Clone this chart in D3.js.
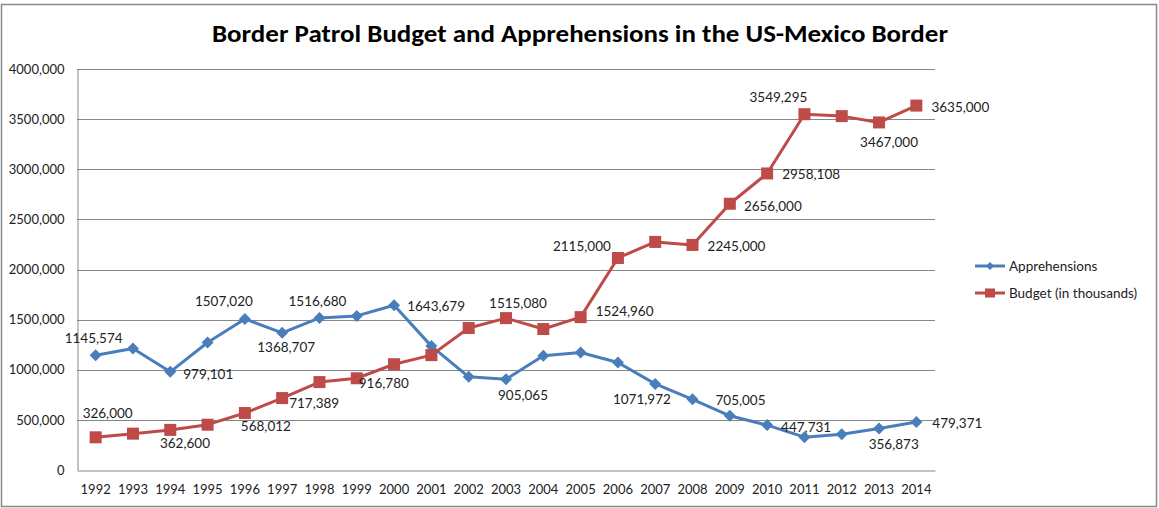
<!DOCTYPE html>
<html>
<head>
<meta charset="utf-8">
<script src="https://cdn.jsdelivr.net/npm/d3@7"></script>
<style>
  html, body { margin: 0; padding: 0; background: #fff; }
  svg { display: block; }
</style>
</head>
<body>
<svg id="chart" width="1159" height="508"></svg>
<script>
// ---- data ----
const titleText = "Border Patrol Budget and Apprehensions in the US-Mexico Border";
const years = ["1992","1993","1994","1995","1996","1997","1998","1999","2000","2001","2002","2003","2004","2005","2006","2007","2008","2009","2010","2011","2012","2013","2014"];
const apprehensions = [1145574,1212886,979101,1271390,1507020,1368707,1516680,1537000,1643679,1235718,929809,905065,1139282,1171396,1071972,858638,705005,540865,447731,327577,356873,414397,479371];
const budget = [326000,362600,400000,452000,568012,717389,877000,915000,1055000,1146000,1416000,1515080,1406000,1524960,2115000,2275000,2245000,2656000,2958108,3549295,3530000,3467000,3635000];
const yTickValues = [0,500000,1000000,1500000,2000000,2500000,3000000,3500000,4000000];
const yTickLabels = ["0","500,000","1000,000","1500,000","2000,000","2500,000","3000,000","3500,000","4000,000"];
const seriesNames = ["Apprehensions","Budget (in thousands)"];
// data label texts and the point index each one belongs to
const apprLabelText = ["1145,574","979,101","1507,020","1368,707","1516,680","1643,679","905,065","1071,972","705,005","447,731","356,873","479,371"];
const apprLabelIndex = [0,2,4,5,6,8,11,14,16,18,20,22];
const budgetLabelText = ["326,000","362,600","568,012","717,389","916,780","1515,080","1524,960","2115,000","2245,000","2656,000","2958,108","3549,295","3467,000","3635,000"];
const budgetLabelIndex = [0,1,4,5,7,11,13,14,16,17,18,19,21,22];

// ---- layout / style ----
const W = 1159, H = 508;
const plot = {left: 77, right: 935, top: 69, bottom: 470};
const apprColor = "#4A7EBB", budgetColor = "#BE4B48";
const gridColor = "#868686";
const font = "Lato, 'Open Sans', 'Liberation Sans', sans-serif";
// label offsets (dx, dy) relative to their point
const apprOffsets = [[-2,-17],[38,2],[-21,-18],[4,14],[-2,-17],[42,1],[17,16],[24,36],[48,1],[39,2],[52,10],[41,1]];
const budgetOffsets = [[12,-24],[52,9],[21,13],[32,5],[27,5],[12,-15],[44,-6],[-36,-12],[44,1],[43,2],[44,1],[-26,-17],[10,20],[44,1]];

const svg = d3.select("#chart");

// outer border
svg.append("rect").attr("x",1.5).attr("y",4.5).attr("width",W-4).attr("height",H-6)
  .attr("fill","#fff").attr("stroke","#898989").attr("stroke-width",1.5);

// title
svg.append("text").attr("x",580).attr("y",42).attr("text-anchor","middle")
  .attr("font-family","Carlito, 'Open Sans', 'Liberation Sans', sans-serif").attr("font-weight","bold")
  .attr("font-size",24).attr("fill","#000")
  .attr("textLength",736).attr("lengthAdjust","spacingAndGlyphs")
  .text(titleText);

const x = d3.scaleBand().domain(years).range([plot.left, plot.right]);
const y = d3.scaleLinear().domain([0,4000000]).range([plot.bottom, plot.top]);
const cx = d => x(d) + x.bandwidth()/2;

// gridlines
svg.append("g").selectAll("line").data(yTickValues.filter(v => v > 0)).join("line")
  .attr("x1",plot.left).attr("x2",plot.right)
  .attr("y1",d => Math.round(y(d))+0.5).attr("y2",d => Math.round(y(d))+0.5)
  .attr("stroke",gridColor).attr("stroke-width",1);

// y axis
const yAxis = d3.axisLeft(y).tickValues(yTickValues).tickSize(0).tickPadding(13)
  .tickFormat((d,i) => yTickLabels[i]);
const gy = svg.append("g").attr("transform",`translate(${plot.left+0.5},0)`).call(yAxis);
gy.select(".domain").attr("stroke",gridColor);
gy.selectAll("text").attr("font-family",font).attr("font-size",13).attr("fill","#222");

// x axis
const xAxis = d3.axisBottom(x).tickSize(0).tickPadding(14);
const gx = svg.append("g").attr("transform",`translate(0,${plot.bottom+0.5})`).call(xAxis);
gx.select(".domain").attr("stroke",gridColor);
gx.selectAll("text").attr("font-family",font).attr("font-size",13).attr("fill","#222");

// lines
const line = d3.line().x((d,i) => cx(years[i])).y(d => y(d));
svg.append("path").datum(apprehensions).attr("d",line).attr("fill","none")
  .attr("stroke",apprColor).attr("stroke-width",3).attr("stroke-linejoin","round");
svg.append("path").datum(budget).attr("d",line).attr("fill","none")
  .attr("stroke",budgetColor).attr("stroke-width",3).attr("stroke-linejoin","round");

// markers
const diamond = s => `M0,${-s}L${s},0L0,${s}L${-s},0Z`;
svg.append("g").selectAll("path").data(apprehensions).join("path")
  .attr("transform",(d,i) => `translate(${cx(years[i])},${y(d)})`)
  .attr("d",diamond(6)).attr("fill",apprColor);
svg.append("g").selectAll("rect").data(budget).join("rect")
  .attr("x",(d,i) => cx(years[i]) - 6).attr("y",d => y(d) - 6)
  .attr("width",12).attr("height",12).attr("fill",budgetColor);

// data labels
function drawLabels(texts, idx, vals, offs) {
  svg.append("g").selectAll("text").data(texts).join("text")
    .attr("x",(t,k) => cx(years[idx[k]]) + offs[k][0])
    .attr("y",(t,k) => y(vals[idx[k]]) + offs[k][1])
    .attr("text-anchor","middle").attr("dominant-baseline","central")
    .attr("font-family",font).attr("font-size",13.5).attr("fill","#222")
    .text(t => t);
}
drawLabels(apprLabelText, apprLabelIndex, apprehensions, apprOffsets);
drawLabels(budgetLabelText, budgetLabelIndex, budget, budgetOffsets);

// legend
const legend = svg.append("g");
const legY = [266, 293];
[apprColor, budgetColor].forEach((c,i) => {
  legend.append("line").attr("x1",975).attr("x2",1005).attr("y1",legY[i]).attr("y2",legY[i])
    .attr("stroke",c).attr("stroke-width",3);
  if (i === 0) {
    legend.append("path").attr("transform",`translate(990,${legY[i]})`).attr("d",diamond(4)).attr("fill",c);
  } else {
    legend.append("rect").attr("x",985).attr("y",legY[i]-4.5).attr("width",10).attr("height",9).attr("fill",c);
  }
  legend.append("text").attr("x",1009).attr("y",legY[i]).attr("dominant-baseline","central")
    .attr("font-family",font).attr("font-size",13.5).attr("fill","#222").text(seriesNames[i]);
});
</script>
</body>
</html>
